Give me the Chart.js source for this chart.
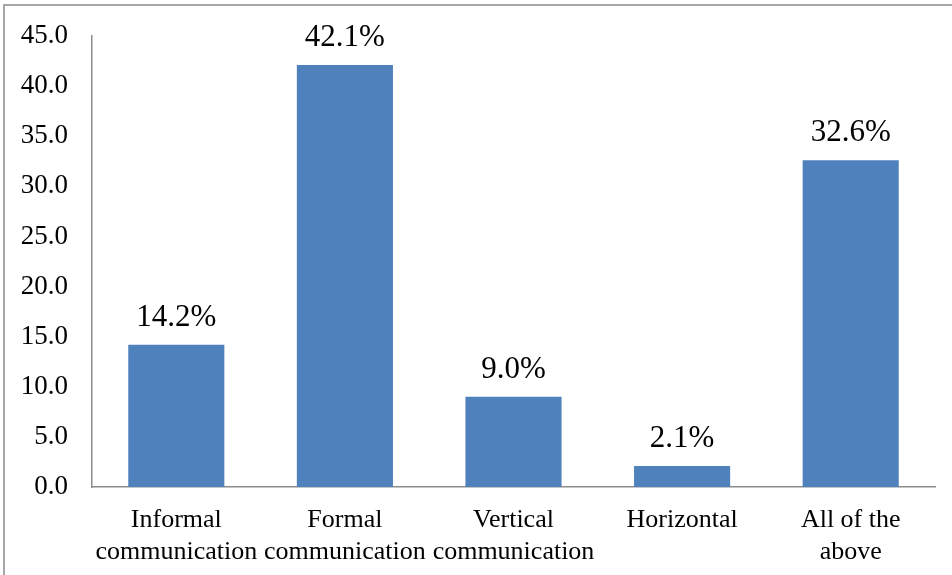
<!DOCTYPE html>
<html>
<head>
<meta charset="utf-8">
<script src="https://cdn.jsdelivr.net/npm/chart.js@4/dist/chart.umd.min.js"></script>
<style>
  html, body { margin: 0; padding: 0; background: #fff; }
  #wrap { position: relative; width: 952px; height: 575px; overflow: hidden; }
  #frameTop { position: absolute; left: 3px; top: 4px; width: 949px; height: 2px; background: #a6a6a6; }
  #frameLeft { position: absolute; left: 3px; top: 4px; width: 2px; height: 571px; background: #a6a6a6; }
  canvas { position: absolute; left: 0; top: 0; }
</style>
</head>
<body>
<div id="wrap">
  <div id="frameTop"></div>
  <div id="frameLeft"></div>
  <canvas id="chart" width="952" height="575"></canvas>
</div>
<script>
// Communication types and their share of responses (%)
const categories = [
  ["Informal", "communication"],
  ["Formal", "communication"],
  ["Vertical", "communication"],
  ["Horizontal"],
  ["All of the", "above"]
];
const shares = [14.2, 42.1, 9.0, 2.1, 32.6];
const yTicks = [0, 5, 10, 15, 20, 25, 30, 35, 40, 45];

const serif = "'Liberation Serif', 'Times New Roman', serif";

// Percentage label written above each bar
const valueLabels = {
  id: 'valueLabels',
  afterDatasetsDraw(chart) {
    const ctx = chart.ctx;
    const meta = chart.getDatasetMeta(0);
    ctx.save();
    ctx.font = '31px ' + serif;
    ctx.fillStyle = '#000';
    ctx.textAlign = 'center';
    ctx.textBaseline = 'alphabetic';
    meta.data.forEach((bar, i) => {
      const v = chart.data.datasets[0].data[i];
      ctx.fillText(v.toFixed(1) + '%', bar.x, bar.y - 19);
    });
    ctx.restore();
  }
};

new Chart(document.getElementById('chart'), {
  type: 'bar',
  data: {
    labels: categories,
    datasets: [{
      data: shares,
      backgroundColor: '#4F81BD',
      borderWidth: 0,
      barPercentage: 0.57,
      categoryPercentage: 1.0
    }]
  },
  options: {
    responsive: false,
    animation: false,
    layout: { padding: { top: 36, right: 17, bottom: 0, left: 0 } },
    plugins: { legend: { display: false }, tooltip: { enabled: false } },
    scales: {
      x: {
        grid: { display: false, drawTicks: false },
        border: { display: true, color: '#8c8c8c', width: 1.5 },
        ticks: {
          color: '#000',
          font: { family: serif, size: 26, lineHeight: 1.2 },
          padding: 18,
          maxRotation: 0,
          autoSkip: false
        },
        afterFit(scale) { scale.height = 88; }
      },
      y: {
        min: 0,
        max: 45,
        grid: { display: false, drawTicks: false },
        border: { display: true, color: '#8c8c8c', width: 1.5 },
        afterBuildTicks(scale) { scale.ticks = yTicks.map(v => ({ value: v })); },
        ticks: {
          color: '#000',
          font: { family: serif, size: 27 },
          padding: 24,
          callback: v => Number(v).toFixed(1)
        },
        afterFit(scale) {
          scale.width = 92;
          scale.paddingTop = 0;
          scale.paddingBottom = 0;
        }
      }
    }
  },
  plugins: [valueLabels]
});
</script>
</body>
</html>
